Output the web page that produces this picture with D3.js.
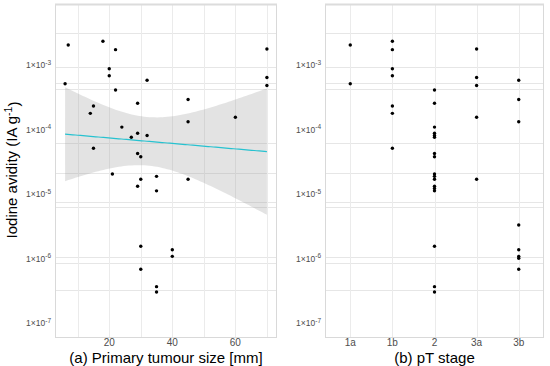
<!DOCTYPE html>
<html>
<head>
<meta charset="utf-8">
<script src="https://cdn.jsdelivr.net/npm/d3@7"></script>
<style>
  body { margin: 0; background: #fff; }
  svg { font-family: "Liberation Sans", Arial, sans-serif; }
</style>
</head>
<body>
<svg id="chart" width="550" height="366"></svg>
<script>
// Data: iodine avidity per patient, with tumour size (mm) and pT stage
const avidity = [2.33e-3, 2.04e-3, 1.77e-3, 1.73e-3, 8.77e-4, 6.82e-4, 6.40e-4, 5.79e-4, 5.13e-4, 4.81e-4,
  4.09e-4, 2.92e-4, 2.55e-4, 2.31e-4, 1.78e-4, 1.55e-4, 1.32e-4, 1.09e-4, 8.73e-5, 8.07e-5,
  7.57e-5, 5.12e-5, 4.25e-5, 3.78e-5, 2.04e-5, 1.88e-5, 1.69e-5, 1.69e-5, 1.32e-5, 1.22e-5,
  1.12e-5, 3.30e-6, 1.55e-6, 1.37e-6, 1.08e-6, 1.01e-6, 6.81e-7, 3.66e-7, 3.03e-7];
const sizeMm = [18, 7, 70, 22, 20, 20, 70, 32, 6, 70,
  22, 45, 29, 15, 14, 60, 45, 24, 29, 32,
  27, 15, 29, 30, 21, 35, 30, 45, 29, null,
  35, null, 30, 40, 40, null, 30, 35, 35];
const stage = ["1b", "1a", "3a", "1b", "1b", "1b", "3a", "3b", "1a", "3a",
  "2", "3b", "2", "1b", "1b", "3a", "3b", "2", "2", "2",
  "2", "1b", "2", "2", "2", "2", "2", "3a", "2", "2",
  "2", "3b", "2", "3b", "3b", "3b", "3b", "2", "2"];

const stages = ["1a", "1b", "2", "3a", "3b"];
const yBreaks = [1e-3, 1e-4, 1e-5, 1e-6, 1e-7];
const yBreakExp = ["-3", "-4", "-5", "-6", "-7"];
const yGrid = [3.1e-3, 9.4e-4, 5.2e-4, 4.2e-4, 6.1e-5, 2.1e-5, 7.4e-6, 6.4e-6, 1.04e-6, 8.4e-7, 3.2e-7];
const yLimits = [6.07e-8, 8.83e-3];
const xBreaks = [20, 40, 60];
const xGrid = [10, 20, 30, 40, 50, 60, 70];
const tCrit = 2.032; // qt(0.975, df = 34)

const data = avidity.map((v, i) => ({ value: v, size: sizeMm[i], stage: stage[i] }));

const svg = d3.select("#chart");
const pTop = 4, pBottom = 337;

const y = d3.scaleLog().domain(yLimits).range([pBottom, pTop]);

// left panel x scale, ggplot style 5% expansion
const sized = data.filter(d => d.size != null);
const ext = d3.extent(sized, d => d.size);
const pad = (ext[1] - ext[0]) * 0.05;
const xA = d3.scaleLinear().domain([ext[0] - pad, ext[1] + pad]).range([55, 277]);
const xB = d3.scalePoint().domain(stages).range([325, 544]).padding(0.6);

function panel(x0, x1) {
  const g = svg.append("g");
  g.append("rect").attr("x", x0).attr("y", pTop).attr("width", x1 - x0).attr("height", pBottom - pTop)
    .attr("fill", "#fff");
  g.selectAll(".hgrid").data(yGrid).enter().append("line")
    .attr("x1", x0).attr("x2", x1)
    .attr("y1", d => Math.round(y(d)) + 0.5).attr("y2", d => Math.round(y(d)) + 0.5)
    .attr("stroke", "#e6e6e6").attr("stroke-width", 1);
  return g;
}

function yLabels(g, xRight) {
  const t = g.selectAll(".ylab").data(yBreaks).enter().append("text")
    .attr("x", xRight).attr("y", d => y(d))
    .attr("dy", "0.4em")
    .attr("text-anchor", "end")
    .attr("font-size", 8.5).attr("fill", "#4d4d4d");
  t.append("tspan").text("1×10");
  t.append("tspan").attr("dy", "-0.55em").attr("font-size", 6.5).text((d, i) => yBreakExp[i]);
}

function frame(g, x0, x1) {
  g.append("rect").attr("x", x0 + 0.5).attr("y", pTop + 0.5).attr("width", x1 - x0 - 1).attr("height", pBottom - pTop)
    .attr("fill", "none").attr("stroke", "#d9d9d9");
  g.append("line").attr("x1", x0).attr("x2", x1).attr("y1", pTop + 0.5).attr("y2", pTop + 0.5)
    .attr("stroke", "#dcdcdc").attr("stroke-width", 2);
}

// ---- panel (a)
const gA = panel(55, 277);
gA.selectAll(".vgrid").data(xGrid).enter().append("line")
  .attr("x1", d => Math.round(xA(d)) + 0.5).attr("x2", d => Math.round(xA(d)) + 0.5)
  .attr("y1", pTop).attr("y2", pBottom)
  .attr("stroke", "#ebebeb");

// linear fit on log10 scale with 95% band
const lx = sized.map(d => d.size), ly = sized.map(d => Math.log10(d.value));
const n = lx.length;
const mx = d3.mean(lx), my = d3.mean(ly);
let sxx = 0, sxy = 0;
lx.forEach((v, i) => { sxx += (v - mx) ** 2; sxy += (v - mx) * (ly[i] - my); });
const slope = sxy / sxx, icpt = my - slope * mx;
let sse = 0;
lx.forEach((v, i) => { sse += (ly[i] - icpt - slope * v) ** 2; });
const s = Math.sqrt(sse / (n - 2));
const fitX = d3.range(80).map(i => ext[0] + (ext[1] - ext[0]) * i / 79);
const fit = fitX.map(xv => {
  const m = icpt + slope * xv;
  const se = s * Math.sqrt(1 / n + (xv - mx) ** 2 / sxx);
  return { x: xv, fit: Math.pow(10, m), lo: Math.pow(10, m - tCrit * se), hi: Math.pow(10, m + tCrit * se) };
});

gA.append("path").datum(fit)
  .attr("d", d3.area().x(d => xA(d.x)).y0(d => y(d.lo)).y1(d => y(d.hi)))
  .attr("fill", "#999999").attr("fill-opacity", 0.27);
gA.append("path").datum(fit)
  .attr("d", d3.line().x(d => xA(d.x)).y(d => y(d.fit)))
  .attr("fill", "none").attr("stroke", "#27c2d0").attr("stroke-width", 1.2);

gA.selectAll(".dot").data(sized).enter().append("circle")
  .attr("cx", d => xA(d.size)).attr("cy", d => y(d.value)).attr("r", 1.7)
  .attr("fill", "#000");

frame(gA, 55, 277);

yLabels(gA, 51);
gA.selectAll(".xlab").data(xBreaks).enter().append("text")
  .attr("x", d => xA(d)).attr("y", 345.5)
  .attr("text-anchor", "middle").attr("font-size", 10).attr("fill", "#4d4d4d")
  .text(d => d);
gA.append("text").attr("x", 166).attr("y", 362.5).attr("text-anchor", "middle")
  .attr("font-size", 15).attr("fill", "#000").text("(a) Primary tumour size [mm]");

// y title
const yt = svg.append("text").attr("transform", "translate(17,170) rotate(-90)")
  .attr("text-anchor", "middle").attr("font-size", 15).attr("fill", "#000");
yt.append("tspan").text("Iodine avidity (IA g");
yt.append("tspan").attr("dy", "-0.5em").attr("font-size", 10.5).text("-1");
yt.append("tspan").attr("dy", "0.5em").text(")");

// ---- panel (b)
const gB = panel(325, 544);
gB.selectAll(".vgrid").data(stages).enter().append("line")
  .attr("x1", d => Math.round(xB(d)) + 0.5).attr("x2", d => Math.round(xB(d)) + 0.5)
  .attr("y1", pTop).attr("y2", pBottom)
  .attr("stroke", "#ebebeb");

gB.selectAll(".dot").data(data).enter().append("circle")
  .attr("cx", d => xB(d.stage)).attr("cy", d => y(d.value)).attr("r", 1.7)
  .attr("fill", "#000");

frame(gB, 325, 544);

yLabels(gB, 321);
gB.selectAll(".xlab").data(stages).enter().append("text")
  .attr("x", d => xB(d)).attr("y", 345.5)
  .attr("text-anchor", "middle").attr("font-size", 10).attr("fill", "#4d4d4d")
  .text(d => d);
gB.append("text").attr("x", 434.5).attr("y", 362.5).attr("text-anchor", "middle")
  .attr("font-size", 15).attr("fill", "#000").text("(b) pT stage");
</script>
</body>
</html>
